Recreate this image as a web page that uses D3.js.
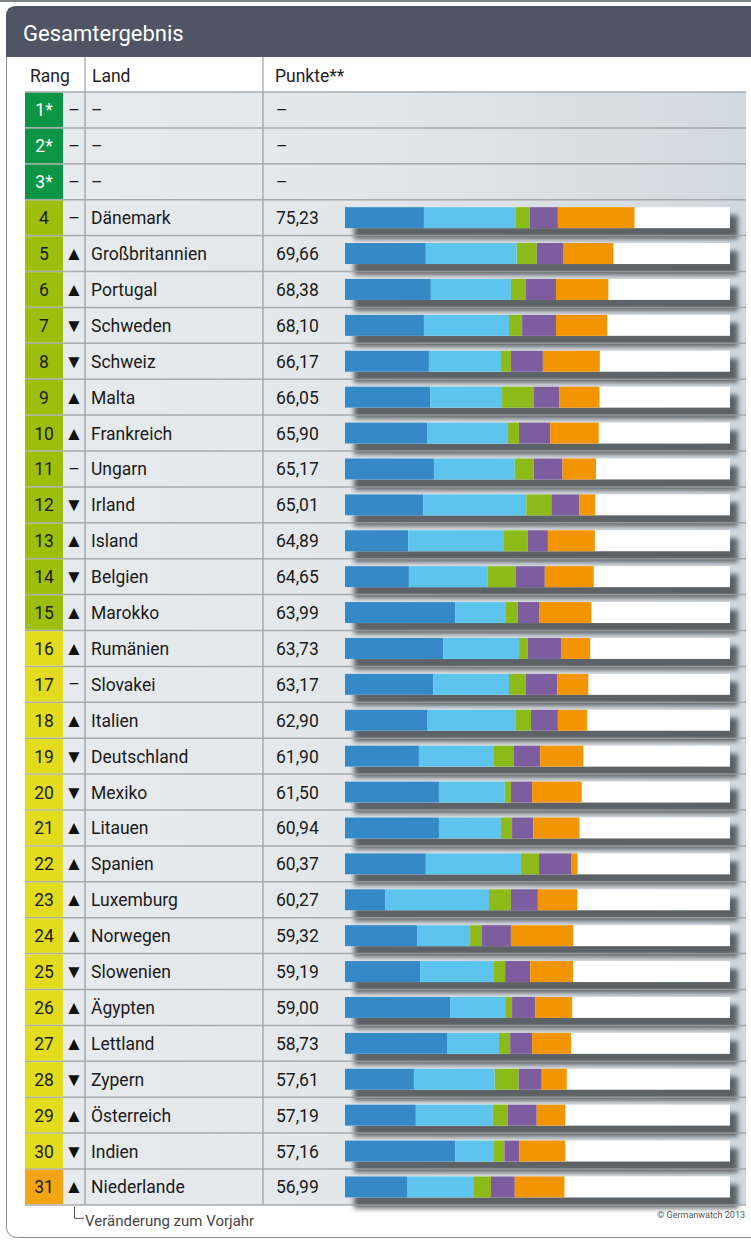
<!DOCTYPE html>
<html>
<head>
<meta charset="utf-8">
<script src="https://cdn.jsdelivr.net/npm/d3@7"></script>
<style>
  html, body { margin: 0; padding: 0; background: #fff; }
  svg { display: block; font-family: Roboto, "Noto Sans", sans-serif; }
</style>
</head>
<body>
<div id="chart"></div>
<script>
// Gesamtergebnis - ranking table with stacked bars

const ranks = ["1*", "2*", "3*", "4", "5", "6", "7", "8", "9", "10", "11", "12", "13", "14", "15",
    "16", "17", "18", "19", "20", "21", "22", "23", "24", "25", "26", "27", "28", "29", "30", "31"];
const trends = ["–", "–", "–", "–", "▲", "▲", "▼", "▼", "▲", "▲", "–", "▼", "▲", "▼", "▲",
    "▲", "–", "▲", "▼", "▼", "▲", "▲", "▲", "▲", "▼", "▲", "▲", "▼", "▲", "▼", "▲"];
const countries = ["–", "–", "–", "Dänemark", "Großbritannien", "Portugal", "Schweden", "Schweiz",
    "Malta", "Frankreich", "Ungarn", "Irland", "Island", "Belgien", "Marokko", "Rumänien",
    "Slovakei", "Italien", "Deutschland", "Mexiko", "Litauen", "Spanien", "Luxemburg",
    "Norwegen", "Slowenien", "Ägypten", "Lettland", "Zypern", "Österreich", "Indien", "Niederlande"];
const scores = [null, null, null, 75.23, 69.66, 68.38, 68.10, 66.17, 66.05, 65.90, 65.17, 65.01,
    64.89, 64.65, 63.99, 63.73, 63.17, 62.90, 61.90, 61.50, 60.94, 60.37, 60.27, 59.32, 59.19,
    59.00, 58.73, 57.61, 57.19, 57.16, 56.99];
const rankGroups = ["top", "top", "top", "good", "good", "good", "good", "good", "good", "good", "good",
    "good", "good", "good", "good", "mid", "mid", "mid", "mid", "mid", "mid", "mid", "mid", "mid",
    "mid", "mid", "mid", "mid", "mid", "mid", "low"];

// bar components (points), for ranks 4..31
const emissionsLevel = [20.5, 21.0, 22.3, 20.5, 21.8, 22.1, 21.3, 23.1, 20.3, 16.4, 16.6, 28.6, 25.5, 22.9,
    21.3, 19.2, 24.4, 24.4, 21.0, 10.4, 18.7, 19.5, 27.3, 26.5, 17.9, 18.4, 28.6, 16.1];
const emissionsTrend = [23.9, 23.6, 20.8, 22.1, 18.7, 18.7, 21.0, 21.0, 26.8, 24.9, 20.5, 13.2, 19.7, 19.7,
    23.1, 19.5, 17.1, 16.1, 24.7, 27.0, 13.8, 19.0, 14.3, 13.5, 21.0, 20.0, 9.9, 17.4];
const renewables = [3.6, 5.2, 3.9, 3.4, 2.6, 8.3, 2.9, 4.9, 6.5, 6.2, 7.3, 3.1, 2.3, 4.4,
    3.9, 5.2, 1.6, 2.9, 4.7, 5.7, 3.1, 3.1, 1.8, 2.9, 6.2, 3.9, 2.9, 4.4];
const efficiency = [7.3, 7.0, 7.8, 8.8, 8.3, 6.5, 8.1, 7.5, 7.3, 5.2, 7.5, 5.5, 8.6, 8.1,
    7.0, 6.8, 5.5, 5.5, 8.3, 7.0, 7.5, 6.5, 6.0, 5.7, 6.0, 7.5, 3.9, 6.2];
const policy = [19.9, 12.9, 13.6, 13.3, 14.8, 10.5, 12.6, 8.7, 4.1, 12.2, 12.7, 13.6, 7.6, 8.1,
    7.6, 11.2, 12.9, 12.0, 1.7, 10.2, 16.2, 11.1, 9.6, 10.1, 6.5, 7.4, 11.9, 12.9];

const seriesKeys = ["emissionsLevel", "emissionsTrend", "renewables", "efficiency", "policy"];
const seriesColors = ["#3589c6", "#5dc5ed", "#8cba19", "#7e5ca0", "#f39500"];
const groupColors = { top: "#0c9544", good: "#9dbf0c", mid: "#e3dc1e", low: "#f4a515" };

const width = 751;
const height = 1240;

const svg = d3.select('#chart').append('svg')
    .attr('width', width)
    .attr('height', height);

const defs = svg.append('defs');

const rowGrad = defs.append('linearGradient')
    .attr('id', 'rowGrad')
    .attr('x1', '0%').attr('x2', '100%');
rowGrad.append('stop').attr('offset', '0%').attr('stop-color', '#e8ebee');
rowGrad.append('stop').attr('offset', '45%').attr('stop-color', '#e3e7ea');
rowGrad.append('stop').attr('offset', '100%').attr('stop-color', '#d1d9e0');

defs.append('filter')
    .attr('id', 'shadow')
    .attr('x', '-10%').attr('y', '-60%')
    .attr('width', '120%').attr('height', '220%')
    .append('feGaussianBlur')
    .attr('stdDeviation', 2.5);

// top thin line
svg.append('rect')
    .attr('x', 0).attr('y', 0)
    .attr('width', width).attr('height', 2)
    .attr('fill', '#7d828b');

// panel
svg.append('rect')
    .attr('x', 6.5).attr('y', 6.5)
    .attr('width', width + 20).attr('height', 1231)
    .attr('rx', 10)
    .attr('fill', '#fff')
    .attr('stroke', '#858a93')
    .attr('stroke-width', 1);

// title band
svg.append('path')
    .attr('d', `M6,57 V16 Q6,6 16,6 H${width} V57 Z`)
    .attr('fill', '#505565');

svg.append('text')
    .attr('x', 23)
    .attr('y', 41)
    .attr('fill', '#fff')
    .attr('font-size', '22px')
    .text('Gesamtergebnis');

// scales
const tableTop = 92;
const rowH = 35.9;
const y = d3.scaleBand()
    .domain(ranks)
    .range([tableTop, tableTop + rowH * ranks.length])
    .padding(0);

const x = d3.scaleLinear()
    .domain([0, 100])
    .range([345, 730]);

const barH = 21;
const fontSize = '17.5px';

// header row
const header = svg.append('g');
header.append('text').attr('x', 30).attr('y', 82).text('Rang');
header.append('text').attr('x', 92).attr('y', 82).text('Land');
header.append('text').attr('x', 275).attr('y', 82).text('Punkte**');
header.selectAll('text')
    .attr('font-size', fontSize)
    .attr('fill', '#222');
header.selectAll('line')
    .data([85, 263])
    .enter()
    .append('line')
    .attr('x1', d => d).attr('x2', d => d)
    .attr('y1', 57).attr('y2', tableTop)
    .attr('stroke', '#b0b3b7')
    .attr('stroke-width', 1.5);

// row backgrounds
svg.append('rect')
    .attr('x', 25)
    .attr('y', tableTop)
    .attr('width', 721)
    .attr('height', rowH * ranks.length)
    .attr('fill', 'url(#rowGrad)');

// stacked bars
const barRows = ranks.slice(3).map((r, i) => ({
    rank: r,
    emissionsLevel: emissionsLevel[i],
    emissionsTrend: emissionsTrend[i],
    renewables: renewables[i],
    efficiency: efficiency[i],
    policy: policy[i]
}));

const stacked = d3.stack().keys(seriesKeys)(barRows);

// shadows
svg.append('g')
    .selectAll('rect')
    .data(barRows)
    .enter()
    .append('rect')
    .attr('x', x(0) + 9)
    .attr('y', d => y(d.rank) + (rowH - barH) / 2 + 8)
    .attr('width', x(100) - x(0) - 1)
    .attr('height', barH + 3)
    .attr('fill', '#4f5559')
    .attr('opacity', 0.9)
    .attr('filter', 'url(#shadow)');

// row separators
svg.append('g')
    .selectAll('line')
    .data(d3.range(ranks.length + 1))
    .enter()
    .append('line')
    .attr('x1', 25)
    .attr('x2', 746)
    .attr('y1', i => tableTop + i * rowH)
    .attr('y2', i => tableTop + i * rowH)
    .attr('stroke', '#9b9ea2')
    .attr('stroke-opacity', 0.85)
    .attr('stroke-width', 1.5);

svg.append('g')
    .selectAll('line')
    .data([85, 263])
    .enter()
    .append('line')
    .attr('x1', d => d).attr('x2', d => d)
    .attr('y1', tableTop).attr('y2', tableTop + rowH * ranks.length)
    .attr('stroke', '#a7aaae')
    .attr('stroke-width', 1.5);

// white bar background (0..100)
svg.append('g')
    .selectAll('rect')
    .data(barRows)
    .enter()
    .append('rect')
    .attr('x', x(0))
    .attr('y', d => y(d.rank) + (rowH - barH) / 2)
    .attr('width', x(100) - x(0))
    .attr('height', barH)
    .attr('fill', '#fff');

svg.append('g')
    .selectAll('g')
    .data(stacked)
    .enter()
    .append('g')
    .attr('fill', (d, i) => seriesColors[i])
    .selectAll('rect')
    .data(d => d)
    .enter()
    .append('rect')
    .attr('x', d => x(d[0]))
    .attr('y', d => y(d.data.rank) + (rowH - barH) / 2)
    .attr('width', d => x(d[1]) - x(d[0]))
    .attr('height', barH);

// rank cells
const rows = svg.append('g')
    .selectAll('g')
    .data(ranks.map((r, i) => ({ rank: r, i })))
    .enter()
    .append('g')
    .attr('transform', d => `translate(0,${y(d.rank)})`);

rows.append('rect')
    .attr('x', 25)
    .attr('y', 0.75)
    .attr('width', 38)
    .attr('height', rowH - 1.5)
    .attr('fill', d => groupColors[rankGroups[d.i]]);

rows.append('text')
    .attr('x', 44)
    .attr('y', rowH / 2 + 6.5)
    .attr('text-anchor', 'middle')
    .attr('font-size', fontSize)
    .attr('fill', d => rankGroups[d.i] === 'top' ? '#fff' : '#1a1a1a')
    .text(d => d.rank);

rows.append('text')
    .attr('x', 74)
    .attr('y', d => rowH / 2 + (trends[d.i] === '–' ? 6 : 6.5))
    .attr('text-anchor', 'middle')
    .attr('font-size', d => trends[d.i] === '–' ? fontSize : '19px')
    .attr('fill', '#111')
    .text(d => trends[d.i]);

rows.append('text')
    .attr('x', 91)
    .attr('y', rowH / 2 + 6.5)
    .attr('font-size', fontSize)
    .attr('fill', '#1a1a1a')
    .text(d => countries[d.i]);

const fmt = d3.format('.2f');
rows.append('text')
    .attr('x', 276)
    .attr('y', rowH / 2 + 6.5)
    .attr('font-size', fontSize)
    .attr('fill', '#1a1a1a')
    .text(d => scores[d.i] === null ? '–' : fmt(scores[d.i]).replace('.', ','));

// footnote
const tableBottom = tableTop + rowH * ranks.length;
svg.append('path')
    .attr('d', `M74.5,${tableBottom + 2} V${tableBottom + 13.5} H84`)
    .attr('fill', 'none')
    .attr('stroke', '#555')
    .attr('stroke-width', 1);

svg.append('text')
    .attr('x', 85)
    .attr('y', tableBottom + 21)
    .attr('font-size', '15px')
    .attr('fill', '#444')
    .text('Veränderung zum Vorjahr');

svg.append('text')
    .attr('x', 745)
    .attr('y', tableBottom + 13)
    .attr('text-anchor', 'end')
    .attr('font-size', '9px')
    .attr('fill', '#555')
    .text('© Germanwatch 2013');
</script>
</body>
</html>
